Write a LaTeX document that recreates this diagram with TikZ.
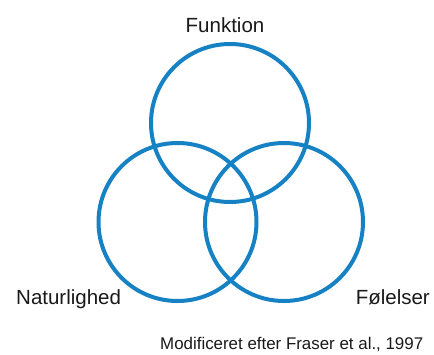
\documentclass[tikz,border=0pt]{standalone}
\usepackage{fontspec}
\setmainfont{Liberation Sans}
\definecolor{ring}{RGB}{22,130,195}
\definecolor{txt}{RGB}{25,25,25}
\begin{document}
\begin{tikzpicture}[x=1pt,y=-1pt,
  ringstyle/.style={draw=ring,line width=4pt,circle,minimum size=158pt,inner sep=0pt},
  lab/.style={text=txt,font=\fontsize{20.5}{24}\selectfont,inner sep=0pt},
  note/.style={text=txt,font=\fontsize{16.9}{20}\selectfont,inner sep=0pt}]
\useasboundingbox (0,0) rectangle (434,354);
\node[ringstyle] (top) at (230,123) {};
\node[ringstyle] (left) at (177.5,222) {};
\node[ringstyle] (right) at (284,222) {};
\node[lab,anchor=base] (funk) at (225,32) {Funktion};
\node[lab,anchor=base west] (nat) at (16,304) {Naturlighed};
\node[lab,anchor=base east] (fol) at (430,304) {Følelser};
\node[note,anchor=base west] (mod) at (160,349) {Modificeret efter Fraser et al., 1997};
\end{tikzpicture}
\end{document}
